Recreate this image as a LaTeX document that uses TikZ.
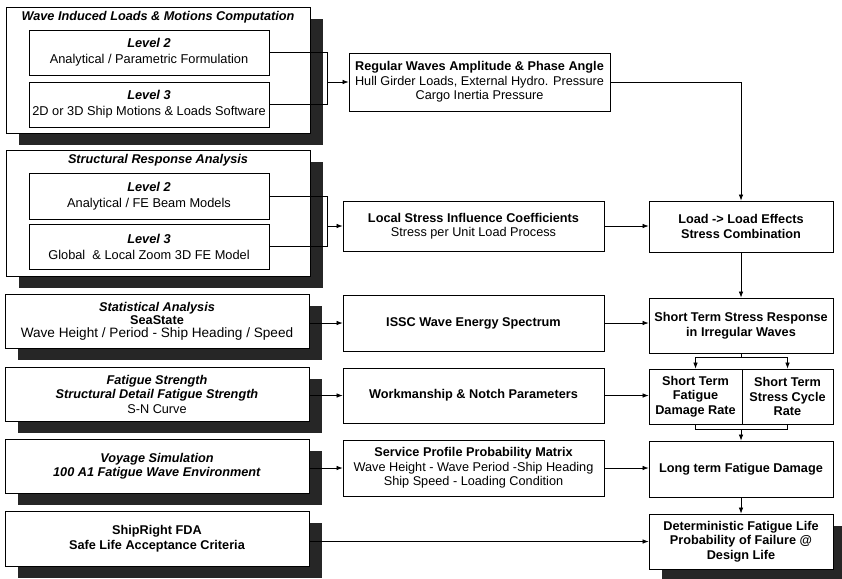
\documentclass[tikz,border=0pt]{standalone}
\usepackage{fontspec}
\setmainfont{Liberation Sans}
\usetikzlibrary{arrows.meta,shadows}
\begin{document}
\begin{tikzpicture}[x=1pt,y=-1pt,
  box/.style={draw=black,line width=0.8pt,fill=white,inner sep=1pt,align=center,
    font=\fontsize{12.7}{14.5}\selectfont},
  lvl/.style={box,font=\fontsize{12.8}{16}\selectfont},
  shad/.style={drop shadow={shadow xshift=13pt,shadow yshift=-12pt,fill=black!85,opacity=1}},
  conn/.style={line width=0.7pt},
  arr/.style={line width=0.7pt,-{Latex[length=6pt,width=4.5pt]}},
  ttl/.style={font=\fontsize{12.7}{14}\selectfont\bfseries\itshape}]
\useasboundingbox (0,0) rectangle (842,578);
% left group boxes
\node[box,shad,minimum width=304pt,minimum height=126pt] (out1) at (158,70) {};
\node[ttl] (t1) at (158,17) {Wave Induced Loads \& Motions Computation};
\node[lvl,minimum width=240pt,minimum height=45pt] (l2a) at (149,52.5) {\textbf{\textit{Level 2}}\\Analytical / Parametric Formulation};
\node[lvl,minimum width=240pt,minimum height=45pt] (l3a) at (149,104.5) {\textbf{\textit{Level 3}}\\2D or 3D Ship Motions \& Loads Software};
\node[box,shad,minimum width=304pt,minimum height=126pt] (out2) at (158,213) {};
\node[ttl] (t2) at (158,160) {Structural Response Analysis};
\node[lvl,minimum width=240pt,minimum height=46pt] (l2b) at (149,196) {\textbf{\textit{Level 2}}\\Analytical / FE Beam Models};
\node[lvl,minimum width=240pt,minimum height=45pt] (l3b) at (149,246.5) {\textbf{\textit{Level 3}}\\Global\ \ \& Local Zoom 3D FE Model};
\node[box,shad,minimum width=304pt,minimum height=54pt,font=\fontsize{12.7}{13}\selectfont] (stat) at (157,321) {\textbf{\textit{Statistical Analysis}}\\\textbf{SeaState}\\{\fontsize{13.6}{13}\selectfont Wave Height / Period - Ship Heading / Speed}};
\node[box,shad,minimum width=304pt,minimum height=54pt] (fat) at (157,394) {\textbf{\textit{Fatigue Strength}}\\\textbf{\textit{Structural Detail Fatigue Strength}}\\S-N Curve};
\node[box,shad,minimum width=304pt,minimum height=54pt] (voy) at (157,466) {\textbf{\textit{Voyage Simulation}}\\\textbf{\textit{100 A1 Fatigue Wave Environment}}};
\node[box,shad,minimum width=304pt,minimum height=55pt] (ship) at (157,538.5) {\textbf{ShipRight FDA}\\\textbf{Safe Life Acceptance Criteria}};
% middle column
\node[box,minimum width=261pt,minimum height=58pt] (reg) at (479.5,82) {\textbf{Regular Waves Amplitude \& Phase Angle}\\Hull Girder Loads, External Hydro. Pressure\\Cargo Inertia Pressure};
\node[box,minimum width=261pt,minimum height=50pt] (loc) at (473.5,226) {\textbf{Local Stress Influence Coefficients}\\Stress per Unit Load Process};
\node[box,minimum width=261pt,minimum height=56pt] (issc) at (473.5,323) {\textbf{ISSC Wave Energy Spectrum}};
\node[box,minimum width=261pt,minimum height=55pt] (work) at (473.5,395.5) {\textbf{Workmanship \& Notch Parameters}};
\node[box,minimum width=261pt,minimum height=56pt] (serv) at (473.5,468) {\textbf{Service Profile Probability Matrix}\\Wave Height - Wave Period -Ship Heading\\Ship Speed - Loading Condition};
% right column
\node[box,minimum width=184pt,minimum height=51pt] (load) at (741,226.5) {\textbf{Load -> Load Effects}\\\textbf{Stress Combination}};
\node[box,minimum width=184pt,minimum height=55pt] (sts) at (741,325.5) {\textbf{Short Term Stress Response}\\\textbf{in Irregular Waves}};
\node[box,minimum width=93pt,minimum height=55pt] (stf) at (695.5,396.5) {\textbf{Short Term}\\\textbf{Fatigue}\\\textbf{Damage Rate}};
\node[box,minimum width=91pt,minimum height=55pt] (stc) at (787.5,396.5) {\textbf{Short Term}\\\textbf{Stress Cycle}\\\textbf{Rate}};
\node[box,minimum width=184pt,minimum height=56pt] (lt) at (741,469) {\textbf{Long term Fatigue Damage}};
\node[box,shad,minimum width=184pt,minimum height=55pt] (det) at (741,541.5) {\textbf{Deterministic Fatigue Life}\\\textbf{Probability of Failure @}\\\textbf{Design Life}};
% brackets
\draw[conn] (l2a.east) -- ++(58,0) coordinate (b1) -- (b1 |- l3a.east) -- (l3a.east);
\draw[arr] (b1 |- reg.west) -- (reg.west);
\draw[conn] (l2b.east) -- ++(58,0) coordinate (b2) -- (b2 |- l3b.east) -- (l3b.east);
\draw[arr] (b2 |- loc.west) -- (loc.west);
% left to middle
\draw[arr] (stat.east |- issc.west) -- (issc.west);
\draw[arr] (fat.east |- work.west) -- (work.west);
\draw[arr] (voy.east |- serv.west) -- (serv.west);
\draw[arr] (ship.east |- det.west) -- (det.west);
% middle to right
\draw[arr] (reg.east) -| (load.north);
\draw[arr] (loc.east) -- (loc.east -| load.west);
\draw[arr] (issc.east) -- (issc.east -| sts.west);
\draw[arr] (work.east) -- (work.east -| stf.west);
\draw[arr] (serv.east) -- (serv.east -| lt.west);
% right column flow
\draw[arr] (load.south) -- (sts.north);
\draw[conn] (sts.south) -- ++(0,4) coordinate (sp);
\draw[conn] (sp -| stf.north) -- (sp -| stc.north);
\draw[arr] (sp -| stf.north) -- (stf.north);
\draw[arr] (sp -| stc.north) -- (stc.north);
\draw[conn] (stf.south) -- ++(0,5) coordinate (jn) -- (jn -| stc.south) -- (stc.south);
\draw[arr] (jn -| lt.north) -- (lt.north);
\draw[arr] (lt.south) -- (det.north);
\end{tikzpicture}
\end{document}
